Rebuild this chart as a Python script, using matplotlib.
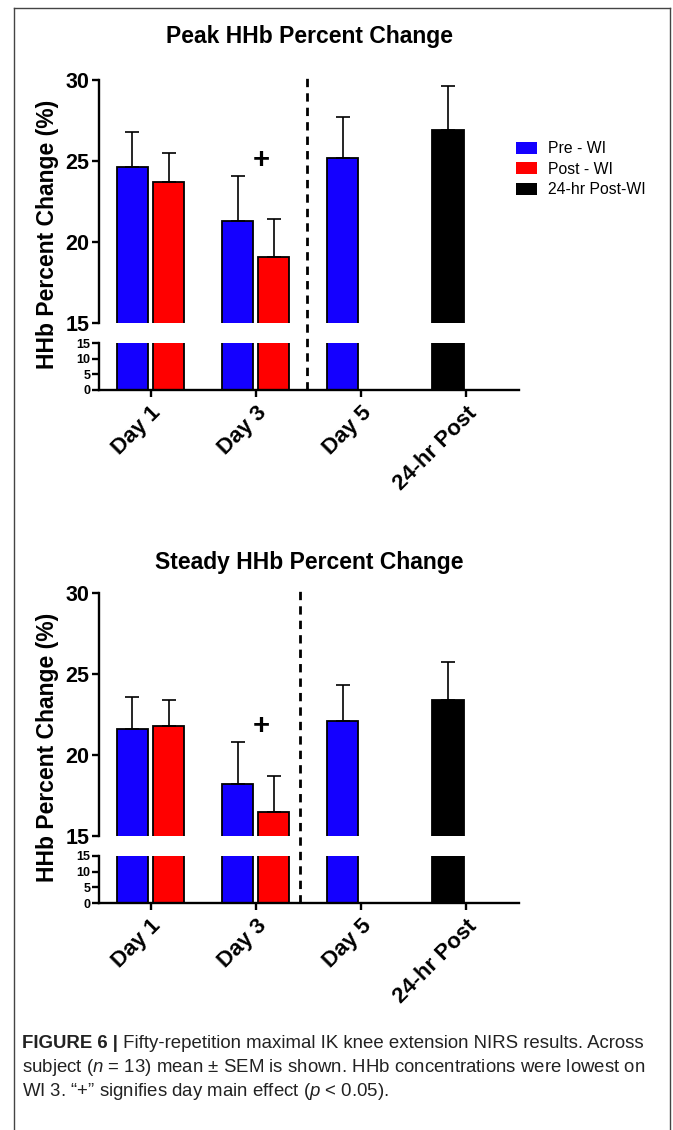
import numpy as np
import matplotlib
matplotlib.use("Agg")
import matplotlib.pyplot as plt
from matplotlib.patches import Patch
from matplotlib.lines import Line2D

plt.rcParams['font.family'] = ['Liberation Sans', 'DejaVu Sans']
plt.rcParams['mathtext.fontset'] = 'custom'
plt.rcParams['mathtext.it'] = 'Liberation Sans:italic'
plt.rcParams['mathtext.rm'] = 'Liberation Sans'

categories = ['Day 1', 'Day 3', 'Day 5', '24-hr Post']
series_names = ['Pre - WI', 'Post - WI', '24-hr Post-WI']
colors = ['#1400FF', '#FF0000', '#000000']

# peak HHb
peak_pre = [24.6, 21.3, 25.2]
peak_pre_sem = [2.2, 2.8, 2.5]
peak_post = [23.7, 19.1]
peak_post_sem = [1.8, 2.35]
peak_24 = [26.9]
peak_24_sem = [2.7]
peak_plus = 25.06

# steady HHb
steady_pre = [21.6, 18.2, 22.1]
steady_pre_sem = [2.0, 2.6, 2.25]
steady_post = [21.8, 16.5]
steady_post_sem = [1.6, 2.2]
steady_24 = [23.4]
steady_24_sem = [2.35]
steady_plus = 21.8

W, H = 673, 1130
fig = plt.figure(figsize=(W / 100, H / 100), dpi=100)


def fx(px):
    return px / W


def fy(py):
    return 1 - py / H


def draw_panel(top_px, title, title_px, pre, pre_sem, post, post_sem, p24, p24_sem,
               plus_y, vline_x):
    # top_px = pixel y of the "30" tick
    left, right = 99, 519
    lo = fig.add_axes([fx(left), fy(top_px + 310), fx(right - left), 47 / H])
    hi = fig.add_axes([fx(left), fy(top_px + 243), fx(right - left), 243 / H])
    x = np.arange(len(categories))
    off, bw = 0.172, 0.30
    groups = [(x[:3] - off, pre, pre_sem, colors[0]),
              (x[:2] + off, post, post_sem, colors[1]),
              (x[3:] - off, p24, p24_sem, colors[2])]
    for ax in (hi, lo):
        ax.patch.set_visible(False)
        for xs, vals, sem, c in groups:
            ax.bar(xs, vals, width=bw, color=c, edgecolor='black', linewidth=1.3)
        ax.set_xlim(-0.49, 3.505)
        for s in ('top', 'right'):
            ax.spines[s].set_visible(False)
        ax.spines['left'].set_linewidth(1.7)
        ax.tick_params(axis='y', length=5, width=1.7, direction='out', pad=2)
    for xs, vals, sem, c in groups:
        hi.errorbar(xs, vals, yerr=[np.zeros(len(sem)), sem], fmt='none',
                    ecolor='black', elinewidth=1.2, capsize=5, capthick=1.2)
    hi.set_ylim(15, 30)
    hi.set_yticks([15, 20, 25, 30])
    hi.spines['bottom'].set_visible(False)
    hi.set_xticks([])
    for t in hi.get_yticklabels():
        t.set_fontsize(15.5)
        t.set_fontweight('bold')
    lo.set_ylim(0, 15)
    lo.set_yticks([0, 5, 10, 15])
    lo.spines['bottom'].set_linewidth(1.7)
    lo.set_xticks(x)
    lo.set_xticklabels(categories, rotation=45, ha='right', rotation_mode='anchor',
                       fontsize=16, fontweight='bold')
    lo.tick_params(axis='x', length=5, width=1.7, pad=4)
    lo.tick_params(axis='y', pad=1)
    for t in lo.get_yticklabels():
        t.set_fontsize(9)
        t.set_fontweight('bold')
    hi.text(1 + 0.05, plus_y, '+', fontsize=21, fontweight='bold', ha='center', va='center')
    hi.axvline(vline_x, ymin=-(310 - 243) / 243, ymax=1.03, color='black', lw=2,
               ls=(0, (3, 2.2)), clip_on=False)
    fig.text(fx(309), fy(title_px), title, fontsize=16.5, fontweight='bold',
             ha='center', va='center')
    fig.text(fx(48), fy(top_px + 154), 'HHb Percent Change (%)', rotation=90,
             fontsize=16.5, fontweight='bold', ha='center', va='center')
    return hi, lo


draw_panel(80, 'Peak HHb Percent Change', 36, peak_pre, peak_pre_sem, peak_post,
           peak_post_sem, peak_24, peak_24_sem, peak_plus, 1.486)
draw_panel(593, 'Steady HHb Percent Change', 562, steady_pre, steady_pre_sem, steady_post,
           steady_post_sem, steady_24, steady_24_sem, steady_plus, 1.425)

handles = [Patch(facecolor=c) for c in colors]
fig.legend(handles, series_names, loc='upper left', bbox_to_anchor=(fx(502), fy(127)),
           frameon=False, fontsize=11.3, handlelength=1.35, handleheight=0.8,
           handletextpad=0.7, labelspacing=0.35)

# frame around figure
frame_col = '#444444'
fig.add_artist(Line2D([fx(14), fx(14)], [fy(8), 0], color=frame_col, lw=1))
fig.add_artist(Line2D([fx(14), fx(670)], [fy(8), fy(8)], color=frame_col, lw=1))
fig.add_artist(Line2D([fx(670), fx(670)], [fy(8), 0], color=frame_col, lw=1))

# caption
cap_col = '#222222'
cs = 13.4
b = fig.text(fx(22), fy(1048), 'FIGURE 6 |', fontsize=cs, fontweight='bold',
             color=cap_col, va='baseline')
plt.gca().annotate(' Fifty-repetition maximal IK knee extension NIRS results. Across',
                   xy=(1, 0), xycoords=b, ha='left', va='bottom',
                   fontsize=cs, color=cap_col, annotation_clip=False)
fig.text(fx(22), fy(1072), r'subject ($\it{n}$ = 13) mean ± SEM is shown. HHb concentrations were lowest on',
         fontsize=cs, color=cap_col, va='baseline')
fig.text(fx(22), fy(1096), r'WI 3. “+” signifies day main effect ($\it{p}$ < 0.05).',
         fontsize=cs, color=cap_col, va='baseline')

fig.savefig('out.png', dpi=100)
